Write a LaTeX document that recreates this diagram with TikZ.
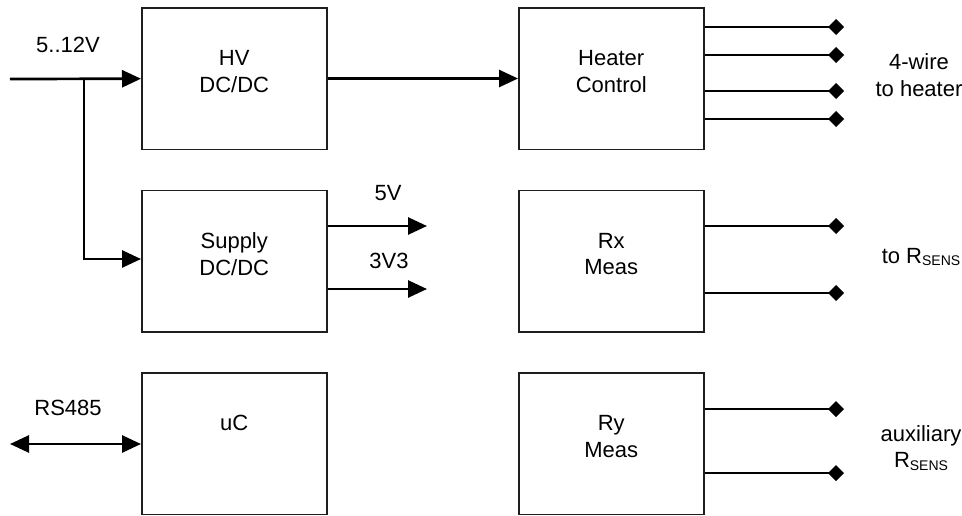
\documentclass[tikz,border=0pt]{standalone}
\usepackage{fontspec}
\setmainfont{Liberation Sans}
\usetikzlibrary{arrows.meta, positioning, calc}
\definecolor{boxline}{RGB}{30,30,30}
\newcommand{\rsens}{R\raisebox{-0.2ex}{\fontsize{14pt}{14pt}\selectfont SENS}}

\begin{document}
\begin{tikzpicture}[
    x=1pt, y=-1pt,
    node distance=39.5pt and 190.5pt,
    box/.style={rectangle, draw=boxline, line width=1.5pt, minimum width=185pt, minimum height=141.5pt, align=center, text depth=14pt, font=\fontsize{22pt}{26.5pt}\selectfont},
    lbl/.style={align=center, font=\fontsize{22pt}{26.5pt}\selectfont},
    arrow/.style={-{Triangle[length=19pt, width=17pt]}, line width=2.7pt},
    biarrow/.style={{Triangle[length=19pt, width=17pt]}-{Triangle[length=19pt, width=17pt]}, line width=2.7pt},
    wire/.style={-{Diamond[length=16pt, width=16pt]}, line width=2.7pt}
]
\useasboundingbox (0,0) rectangle (962,515);

% Converters
\node[box, anchor=north west] (hv) at (141,7) {HV\\DC/DC};
\node[box, below=of hv] (sup) {Supply\\DC/DC};
\node[box, below=of sup, text depth=41pt] (uc) {uC};

% Measurement and heater blocks
\node[box, right=of hv] (heat) {Heater\\Control};
\node[box, below=of heat] (rx) {Rx\\Meas};
\node[box, below=of rx] (ry) {Ry\\Meas};

% Input supply
\coordinate (vin) at (10,79);
\coordinate (br) at (84,79);
\node[lbl] (vinlbl) at (68,45) {5..12V};
\draw[arrow] (vin) -- (hv);
\draw[arrow] (br) |- ([yshift=2pt]sup.west);
\draw[arrow] (hv) -- (heat);

% Supply outputs
\coordinate (v5) at (427,226);
\coordinate (v33) at (427,289);
\node[lbl] (v5lbl) at (388,193) {5V};
\node[lbl] (v33lbl) at (389,261) {3V3};
\draw[arrow] (sup.east |- v5) -- (v5);
\draw[arrow] (sup.east |- v33) -- (v33);

% Bus
\coordinate (rs) at (10,444);
\node[lbl] (rslbl) at (68,408) {RS485};
\draw[biarrow] (rs) -- (uc.west |- rs);

% Heater wires
\foreach \i/\y in {1/27, 2/55, 3/91, 4/119} {
  \coordinate (ht\i) at (844,\y);
  \draw[wire] (heat.east |- ht\i) -- (ht\i);
}
\node[lbl] (heatlbl) at (919,75) {4-wire\\to heater};

% Sensor wires
\foreach \i/\y in {1/226, 2/293} {
  \coordinate (rx\i) at (844,\y);
  \draw[wire] (rx.east |- rx\i) -- (rx\i);
}
\node[lbl] (rxlbl) at (921,257) {to \rsens};

% Auxiliary sensor wires
\foreach \i/\y in {1/409, 2/473} {
  \coordinate (ry\i) at (844,\y);
  \draw[wire] (ry.east |- ry\i) -- (ry\i);
}
\node[lbl] (rylbl) at (921,448) {auxiliary\\\rsens};

\end{tikzpicture}
\end{document}
